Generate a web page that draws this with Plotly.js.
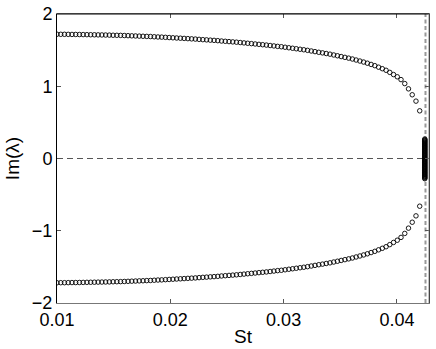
<!DOCTYPE html>
<html>
<head>
<meta charset="utf-8">
<script src="https://cdn.plot.ly/plotly-3.0.1.min.js"></script>
<style>
  html, body { margin: 0; padding: 0; background: #fff; }
  #plot { width: 436px; height: 349px; }
</style>
</head>
<body>
<div id="plot"></div>
<script>
// Strouhal number sweep
let st = [
  0.01000, 0.01033, 0.01066, 0.01099, 0.01132, 0.01165, 0.01198, 0.01231, 0.01264, 0.01297,
  0.01330, 0.01363, 0.01396, 0.01429, 0.01462, 0.01495, 0.01528, 0.01561, 0.01594, 0.01627,
  0.01660, 0.01693, 0.01726, 0.01759, 0.01792, 0.01825, 0.01858, 0.01891, 0.01924, 0.01957,
  0.01990, 0.02023, 0.02056, 0.02089, 0.02122, 0.02155, 0.02188, 0.02221, 0.02254, 0.02287,
  0.02320, 0.02353, 0.02386, 0.02419, 0.02452, 0.02485, 0.02518, 0.02551, 0.02584, 0.02617,
  0.02650, 0.02683, 0.02716, 0.02749, 0.02782, 0.02815, 0.02848, 0.02881, 0.02914, 0.02947,
  0.02980, 0.03013, 0.03046, 0.03079, 0.03112, 0.03145, 0.03178, 0.03211, 0.03244, 0.03277,
  0.03310, 0.03343, 0.03376, 0.03409, 0.03442, 0.03475, 0.03508, 0.03541, 0.03574, 0.03607,
  0.03640, 0.03673, 0.03706, 0.03739, 0.03772, 0.03805, 0.03838, 0.03871, 0.03904, 0.03937,
  0.03970, 0.04003, 0.04036, 0.04069, 0.04102, 0.04135, 0.04168, 0.04201
];

// Im(lambda), upper branch
let imUpper = [
  1.720, 1.719, 1.719, 1.718, 1.717, 1.717, 1.716, 1.715, 1.714, 1.713,
  1.712, 1.711, 1.710, 1.709, 1.708, 1.706, 1.705, 1.704, 1.702, 1.700,
  1.698, 1.696, 1.694, 1.692, 1.690, 1.688, 1.685, 1.682, 1.680, 1.677,
  1.674, 1.671, 1.668, 1.665, 1.662, 1.659, 1.656, 1.653, 1.649, 1.645,
  1.642, 1.638, 1.635, 1.631, 1.626, 1.622, 1.618, 1.614, 1.610, 1.605,
  1.600, 1.595, 1.590, 1.585, 1.580, 1.575, 1.570, 1.564, 1.558, 1.552,
  1.547, 1.540, 1.533, 1.526, 1.519, 1.512, 1.505, 1.497, 1.488, 1.479,
  1.470, 1.462, 1.453, 1.444, 1.433, 1.422, 1.411, 1.400, 1.389, 1.377,
  1.363, 1.349, 1.335, 1.319, 1.302, 1.285, 1.264, 1.243, 1.221, 1.192,
  1.162, 1.131, 1.092, 1.037, 0.964, 0.882, 0.794, 0.660
];

// Im(lambda), lower branch
let imLower = [
  -1.720, -1.719, -1.719, -1.718, -1.717, -1.717, -1.716, -1.715, -1.714, -1.713,
  -1.712, -1.711, -1.710, -1.709, -1.708, -1.706, -1.705, -1.704, -1.702, -1.700,
  -1.698, -1.696, -1.694, -1.692, -1.690, -1.688, -1.685, -1.682, -1.680, -1.677,
  -1.674, -1.671, -1.668, -1.665, -1.662, -1.659, -1.656, -1.653, -1.649, -1.645,
  -1.642, -1.638, -1.635, -1.631, -1.626, -1.622, -1.618, -1.614, -1.610, -1.605,
  -1.600, -1.595, -1.590, -1.585, -1.580, -1.575, -1.570, -1.564, -1.558, -1.552,
  -1.547, -1.540, -1.533, -1.526, -1.519, -1.512, -1.505, -1.497, -1.488, -1.479,
  -1.470, -1.462, -1.453, -1.444, -1.433, -1.422, -1.411, -1.400, -1.389, -1.377,
  -1.363, -1.349, -1.335, -1.319, -1.302, -1.285, -1.264, -1.243, -1.221, -1.192,
  -1.162, -1.131, -1.092, -1.037, -0.964, -0.882, -0.794, -0.660
];

// points crowding near the coalescence
let clusterSt = 0.04246;
let clusterIm = [
  0.27, 0.26, 0.25, 0.24, 0.23, 0.22, 0.21, 0.20, 0.19, 0.18,
  0.17, 0.16, 0.15, 0.14, 0.13, 0.12, 0.11, 0.10, 0.09, 0.08,
  0.07, 0.06, 0.05, 0.04, 0.03, 0.02, 0.01, 0.00,
  -0.01, -0.02, -0.03, -0.04, -0.05, -0.06, -0.07, -0.08, -0.09, -0.10,
  -0.11, -0.12, -0.13, -0.14, -0.15, -0.16, -0.17, -0.18, -0.19, -0.20,
  -0.21, -0.22, -0.23, -0.24, -0.25, -0.26, -0.27, -0.28
];

// critical St (vertical dashed line)
let stCritical = 0.04252;

let xTicks = [0.01, 0.02, 0.03, 0.04];
let xTickText = ['0.01', '0.02', '0.03', '0.04'];
let yTicks = [-2, -1, 0, 1, 2];
let yTickText = ['\u22122', '\u22121', '0', '1', '2'];

let marker = {
    symbol: 'circle-open',
    size: 4.5,
    color: '#000',
    line: {width: 0.9, color: '#000'}
};

let traceUpper = {
    x: st,
    y: imUpper,
    mode: 'markers',
    type: 'scatter',
    marker: marker,
    hoverinfo: 'skip'
};

let traceLower = {
    x: st,
    y: imLower,
    mode: 'markers',
    type: 'scatter',
    marker: marker,
    hoverinfo: 'skip'
};

let traceCluster = {
    x: clusterIm.map(() => clusterSt),
    y: clusterIm,
    mode: 'markers',
    type: 'scatter',
    marker: marker,
    hoverinfo: 'skip'
};

let font = {family: '"Liberation Sans", Arial, Helvetica, sans-serif', size: 18, color: '#000'};

let layout = {
    width: 436,
    height: 349,
    margin: {l: 57, r: 7, t: 14, b: 46},
    paper_bgcolor: '#fff',
    plot_bgcolor: '#fff',
    showlegend: false,
    font: font,
    xaxis: {
        range: [0.01, 0.04283],
        tickvals: xTicks,
        ticktext: xTickText,
        ticks: 'inside',
        ticklen: 4,
        tickcolor: '#555',
        showline: true,
        linecolor: '#777',
        linewidth: 1,
        mirror: 'ticks',
        showgrid: false,
        zeroline: false,
        title: {text: 'St', font: {size: 19}, standoff: 1}
    },
    yaxis: {
        range: [-2, 2],
        tickvals: yTicks,
        ticktext: yTickText,
        ticks: 'inside',
        ticklen: 4,
        tickcolor: '#555',
        showline: true,
        linecolor: '#000',
        linewidth: 1,
        mirror: 'ticks',
        showgrid: false,
        zeroline: false,
        title: {text: 'Im(\u03bb)', font: {size: 19}, standoff: 7}
    },
    shapes: [
        // zero line
        {type: 'line', xref: 'paper', yref: 'y', x0: 0, x1: 1, y0: 0, y1: 0,
         line: {color: '#555', width: 1, dash: '6px,4px'}, layer: 'below'},
        // critical St
        {type: 'line', xref: 'x', yref: 'paper', x0: stCritical, x1: stCritical, y0: 0, y1: 1,
         line: {color: '#999', width: 2, dash: '4px,2.5px'}, layer: 'below'},
        // top edge black, right edge gray
        {type: 'line', xref: 'paper', yref: 'paper', x0: 0, x1: 1, y0: 1, y1: 1,
         line: {color: '#000', width: 1}},
        {type: 'line', xref: 'paper', yref: 'paper', x0: 1, x1: 1, y0: 0, y1: 1,
         line: {color: '#888', width: 1}}
    ]
};

Plotly.newPlot('plot', [traceUpper, traceLower, traceCluster], layout, {staticPlot: true});
</script>
</body>
</html>
